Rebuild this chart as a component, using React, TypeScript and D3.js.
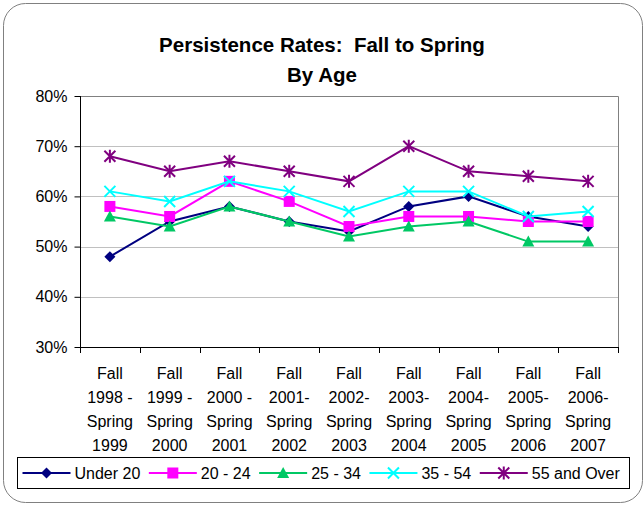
import React, {useEffect, useRef} from 'react';
import * as d3 from 'd3';

// Chart data
const categories = [
  ['Fall', '1998 -', 'Spring', '1999'],
  ['Fall', '1999 -', 'Spring', '2000'],
  ['Fall', '2000 -', 'Spring', '2001'],
  ['Fall', '2001-', 'Spring', '2002'],
  ['Fall', '2002-', 'Spring', '2003'],
  ['Fall', '2003-', 'Spring', '2004'],
  ['Fall', '2004-', 'Spring', '2005'],
  ['Fall', '2005-', 'Spring', '2006'],
  ['Fall', '2006-', 'Spring', '2007'],
];

const under20 = [48, 55, 58, 55, 53, 58, 60, 56, 54];
const age20to24 = [58, 56, 63, 59, 54, 56, 56, 55, 55];
const age25to34 = [56, 54, 58, 55, 52, 54, 55, 51, 51];
const age35to54 = [61, 59, 63, 61, 57, 61, 61, 56, 57];
const age55plus = [68, 65, 67, 65, 63, 70, 65, 64, 63];

const yTicks = [30, 40, 50, 60, 70, 80];

type Marker = 'diamond' | 'square' | 'triangle' | 'cross' | 'star';

const series: {name: string; values: number[]; color: string; marker: Marker}[] = [
  {name: 'Under 20', values: under20, color: '#000080', marker: 'diamond'},
  {name: '20 - 24', values: age20to24, color: '#ff00ff', marker: 'square'},
  {name: '25 - 34', values: age25to34, color: '#00c864', marker: 'triangle'},
  {name: '35 - 54', values: age35to54, color: '#00ffff', marker: 'cross'},
  {name: '55 and Over', values: age55plus, color: '#800080', marker: 'star'},
];

const FONT = '"Liberation Sans", Arial, Helvetica, sans-serif';

/**
 * Draws a single marker glyph centered at (cx, cy).
 */
const drawMarker = (
  g: d3.Selection<SVGGElement, unknown, null, undefined>,
  type: Marker,
  cx: number,
  cy: number,
  color: string,
) => {
  if (type === 'diamond') {
    const s = 5.5;
    g.append('path')
      .attr('d', `M${cx},${cy - s} L${cx + s},${cy} L${cx},${cy + s} L${cx - s},${cy} Z`)
      .attr('fill', color);
  } else if (type === 'square') {
    g.append('rect')
      .attr('x', cx - 5.5)
      .attr('y', cy - 5.5)
      .attr('width', 11)
      .attr('height', 11)
      .attr('fill', color);
  } else if (type === 'triangle') {
    g.append('path')
      .attr('d', `M${cx},${cy - 6} L${cx + 6},${cy + 5} L${cx - 6},${cy + 5} Z`)
      .attr('fill', color);
  } else if (type === 'cross') {
    const s = 5.5;
    g.append('path')
      .attr('d', `M${cx - s},${cy - s} L${cx + s},${cy + s} M${cx - s},${cy + s} L${cx + s},${cy - s}`)
      .attr('stroke', color)
      .attr('stroke-width', 2);
  } else {
    const s = 5.5;
    g.append('path')
      .attr(
        'd',
        `M${cx - s},${cy - s} L${cx + s},${cy + s} M${cx - s},${cy + s} L${cx + s},${cy - s} M${cx},${cy - 6.5} L${cx},${cy + 6.5}`,
      )
      .attr('stroke', color)
      .attr('stroke-width', 2);
  }
};

export default function App() {
  const svgRef = useRef<SVGSVGElement>(null);

  useEffect(() => {
    if (!svgRef.current) return;
    const root = d3.select(svgRef.current);
    root.selectAll('*').remove();

    const W = 643;
    const H = 505;
    root.attr('width', W).attr('height', H);

    // Chart frame
    root
      .append('rect')
      .attr('x', 3.5)
      .attr('y', 3.5)
      .attr('width', 639)
      .attr('height', 499)
      .attr('rx', 22)
      .attr('fill', '#fff')
      .attr('stroke', '#808080')
      .attr('stroke-width', 1);

    // Title
    root
      .append('text')
      .attr('x', 322)
      .attr('y', 52)
      .attr('text-anchor', 'middle')
      .attr('font-family', FONT)
      .attr('font-weight', 'bold')
      .attr('font-size', 20.5)
      .attr('xml:space', 'preserve')
      .text('Persistence Rates:  Fall to Spring');
    root
      .append('text')
      .attr('x', 322)
      .attr('y', 81.5)
      .attr('text-anchor', 'middle')
      .attr('font-family', FONT)
      .attr('font-weight', 'bold')
      .attr('font-size', 20.5)
      .text('By Age');

    const plot = {left: 80, right: 618, top: 96, bottom: 347};

    const x = d3
      .scaleBand<number>()
      .domain(d3.range(categories.length))
      .range([plot.left, plot.right]);
    const y = d3.scaleLinear().domain([30, 80]).range([plot.bottom, plot.top]);

    // Grid lines
    root
      .append('g')
      .selectAll('line')
      .data(yTicks.filter((t) => t > 30))
      .enter()
      .append('line')
      .attr('x1', plot.left)
      .attr('x2', plot.right)
      .attr('y1', (d) => Math.round(y(d)) + 0.5)
      .attr('y2', (d) => Math.round(y(d)) + 0.5)
      .attr('stroke', '#c0c0c0')
      .attr('stroke-width', 1);

    // Plot border (top & right)
    root
      .append('path')
      .attr(
        'd',
        `M${plot.left},${plot.top + 0.5} H${plot.right + 0.5} V${plot.bottom}`,
      )
      .attr('fill', 'none')
      .attr('stroke', '#808080')
      .attr('stroke-width', 1);

    // Y axis
    const yAxis = root
      .append('g')
      .attr('transform', `translate(${plot.left + 0.5},0)`)
      .call(
        d3
          .axisLeft(y)
          .tickValues(yTicks)
          .tickSize(6)
          .tickPadding(7)
          .tickFormat((d) => `${d}%`),
      );
    yAxis.select('.domain').attr('stroke', '#000').attr('d', `M0,${plot.top} V${plot.bottom}`);
    yAxis.selectAll('.tick line').attr('stroke', '#000');
    yAxis
      .selectAll('.tick text')
      .attr('font-family', FONT)
      .attr('font-size', 16)
      .attr('fill', '#000');

    // X axis line + ticks at category boundaries
    const xAxis = root.append('g');
    xAxis
      .append('line')
      .attr('x1', plot.left)
      .attr('x2', plot.right + 1)
      .attr('y1', plot.bottom + 0.5)
      .attr('y2', plot.bottom + 0.5)
      .attr('stroke', '#000');
    xAxis
      .selectAll('line.tk')
      .data(d3.range(categories.length + 1))
      .enter()
      .append('line')
      .attr('class', 'tk')
      .attr('x1', (i) => Math.round(plot.left + i * x.step()) + 0.5)
      .attr('x2', (i) => Math.round(plot.left + i * x.step()) + 0.5)
      .attr('y1', plot.bottom)
      .attr('y2', plot.bottom + 6)
      .attr('stroke', '#000');

    // X category labels
    const lbl = root
      .append('g')
      .selectAll('text')
      .data(categories)
      .enter()
      .append('text')
      .attr('text-anchor', 'middle')
      .attr('font-family', FONT)
      .attr('font-size', 16)
      .attr('fill', '#000');
    lbl
      .selectAll('tspan')
      .data((d) => d)
      .enter()
      .append('tspan')
      .attr('x', function () {
        const idx = categories.indexOf(
          d3.select((this as SVGTSpanElement).parentNode as SVGTextElement).datum() as string[],
        );
        return (x(idx) || 0) + x.bandwidth() / 2;
      })
      .attr('y', (_d, i) => 379 + i * 24)
      .text((d) => d);

    // Series lines and markers
    const line = d3
      .line<number>()
      .x((_d, i) => (x(i) || 0) + x.bandwidth() / 2)
      .y((d) => y(d));

    series.forEach((s) => {
      const g = root.append('g');
      g.append('path')
        .attr('d', line(s.values) || '')
        .attr('fill', 'none')
        .attr('stroke', s.color)
        .attr('stroke-width', 2);
      s.values.forEach((v, i) => {
        drawMarker(g, s.marker, (x(i) || 0) + x.bandwidth() / 2, y(v), s.color);
      });
    });

    // Legend
    const legend = root.append('g');
    legend
      .append('rect')
      .attr('x', 17.5)
      .attr('y', 457.5)
      .attr('width', 612)
      .attr('height', 31)
      .attr('fill', '#fff')
      .attr('stroke', '#000')
      .attr('stroke-width', 1);
    const ly = 473;
    let lx = 22.5;
    series.forEach((s) => {
      const g = legend.append('g');
      g.append('line')
        .attr('x1', lx)
        .attr('x2', lx + 48)
        .attr('y1', ly)
        .attr('y2', ly)
        .attr('stroke', s.color)
        .attr('stroke-width', 2);
      drawMarker(g, s.marker, lx + 24, ly, s.color);
      const t = g
        .append('text')
        .attr('x', lx + 52)
        .attr('y', ly + 6)
        .attr('font-family', FONT)
        .attr('font-size', 16)
        .attr('fill', '#000')
        .text(s.name);
      const tw = (t.node() as SVGTextElement).getComputedTextLength();
      lx += 52 + tw + 8.5;
    });
  }, []);

  return (
    <svg
      ref={svgRef}
      style={{position: 'absolute', left: 0, top: 0, display: 'block'}}
    />
  );
}
